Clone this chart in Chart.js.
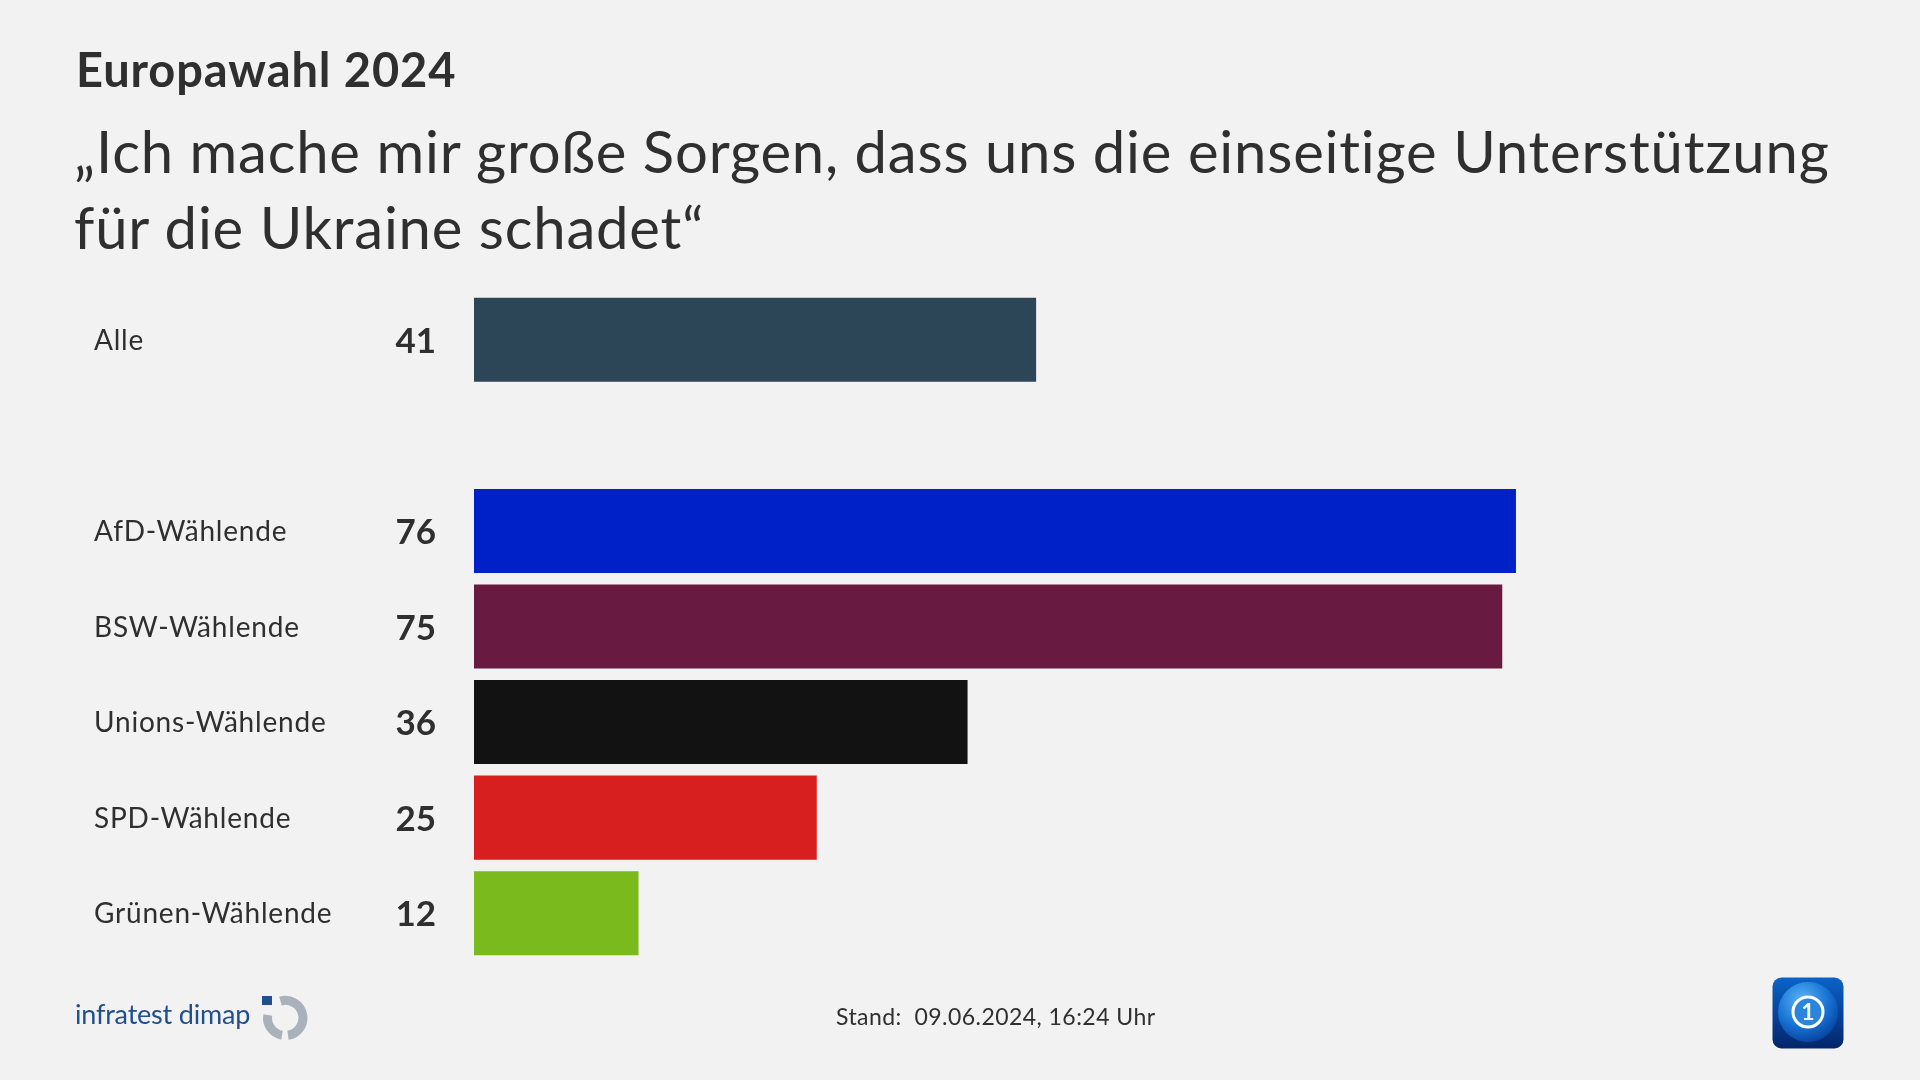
<!DOCTYPE html>
<html lang="de">
<head>
<meta charset="utf-8">
<title>Europawahl 2024</title>
<script src="https://cdn.jsdelivr.net/npm/chart.js@4.4.1/dist/chart.umd.min.js"></script>
<style>
  html, body { margin: 0; padding: 0; background: #f2f2f2; }
  body { width: 1920px; height: 1080px; position: relative; overflow: hidden; font-family: Lato, "Open Sans", sans-serif; color: #2f2f2f; }
  #chartBox { position: absolute; left: 0; top: 0; width: 1920px; height: 1080px; }
  .txt { position: absolute; white-space: nowrap; line-height: 1; }
  #kicker { left: 76px; top: 46px; font-size: 47px; font-weight: 700; letter-spacing: 0.9px; }
  #headline { left: 74px; top: 113px; font-size: 58px; line-height: 76px; letter-spacing: 0.8px; }
  #stand { left: 836px; top: 1005px; font-size: 23px; letter-spacing: 0.45px; }
  #brand { left: 75px; top: 1000px; font-size: 27px; color: #1f4f8c; letter-spacing: -0.2px; }
  #brandIcon { position: absolute; left: 261px; top: 995px; }
  #ardLogo { position: absolute; left: 1772px; top: 977px; }
</style>
</head>
<body>
<div id="chartBox"><canvas id="chart"></canvas></div>

<div class="txt" id="kicker">Europawahl 2024</div>
<div class="txt" id="headline">„Ich mache mir große Sorgen, dass uns die einseitige Unterstützung<br>für die Ukraine schadet“</div>
<div class="txt" id="brand">infratest dimap</div>
<svg id="brandIcon" width="48" height="48" viewBox="0 0 48 48">
  <path d="M 19.5 6.1 A 17.5 17.5 0 1 1 27.0 40.2" fill="none" stroke="#a9b2bb" stroke-width="9"/>
  <path d="M 21.0 40.2 A 17.5 17.5 0 0 1 6.8 20.0" fill="none" stroke="#a9b2bb" stroke-width="9"/>
  <rect x="1" y="1" width="10" height="9" fill="#1f4f8c"/>
</svg>
<div class="txt" id="stand">Stand:&nbsp; 09.06.2024, 16:24 Uhr</div>
<svg id="ardLogo" width="72" height="72" viewBox="0 0 72 72">
  <defs>
    <linearGradient id="bg" x1="0" y1="0" x2="0" y2="1">
      <stop offset="0" stop-color="#0b63c9"/>
      <stop offset="1" stop-color="#03256a"/>
    </linearGradient>
    <radialGradient id="globe" cx="0.4" cy="0.3" r="0.75">
      <stop offset="0" stop-color="#5ab4f5"/>
      <stop offset="0.6" stop-color="#1670d2"/>
      <stop offset="1" stop-color="#083f9a"/>
    </radialGradient>
  </defs>
  <rect x="0.5" y="0.5" width="71" height="71" rx="9" fill="url(#bg)"/>
  <circle cx="36" cy="35" r="30" fill="url(#globe)"/>
  <circle cx="36" cy="35" r="15" fill="#2a86dc" stroke="#ffffff" stroke-width="3"/>
  <text x="36" y="43" text-anchor="middle" font-family="Lato, sans-serif" font-weight="700" font-size="23" fill="#eef4fb">1</text>
</svg>

<script>
// Daten
const categories = ["Alle", "", "AfD-Wählende", "BSW-Wählende", "Unions-Wählende", "SPD-Wählende", "Grünen-Wählende"];
const values = [41, null, 76, 75, 36, 25, 12];
const barColors = ["#2c4557", "#f2f2f2", "#0021c8", "#681a40", "#121212", "#d71f1f", "#7aba1c"];

const TEXT_COLOR = "#2f2f2f";

// Beschriftung links: Gruppenname + Wert (fett, rechtsbündig)
const rowLabels = {
    id: "rowLabels",
    afterDatasetsDraw(chart) {
        const { ctx } = chart;
        const yScale = chart.scales.y;
        ctx.save();
        ctx.fillStyle = TEXT_COLOR;
        ctx.textBaseline = "alphabetic";
        categories.forEach((name, i) => {
            if (values[i] === null) return;
            const y = yScale.getPixelForValue(i);
            ctx.font = "28px Lato, 'Open Sans', sans-serif";
            ctx.letterSpacing = "0.8px";
            ctx.textAlign = "left";
            ctx.fillText(name, 94, y + 10);
            ctx.font = "bold 35px Lato, 'Open Sans', sans-serif";
            ctx.letterSpacing = "0px";
            ctx.textAlign = "right";
            ctx.fillText(String(values[i]), 436, y + 13);
        });
        ctx.restore();
    }
};

new Chart(document.getElementById("chart"), {
    type: "bar",
    data: {
        labels: categories,
        datasets: [{
            data: values,
            backgroundColor: barColors,
            borderWidth: 0,
            barPercentage: 0.88,
            categoryPercentage: 1
        }]
    },
    options: {
        indexAxis: "y",
        responsive: true,
        maintainAspectRatio: false,
        animation: false,
        layout: { padding: { left: 474, right: 75, top: 292, bottom: 119 } },
        plugins: {
            legend: { display: false },
            tooltip: { enabled: false }
        },
        scales: {
            x: { min: 0, max: 100, display: false },
            y: { display: false }
        }
    },
    plugins: [rowLabels]
});
</script>
</body>
</html>
